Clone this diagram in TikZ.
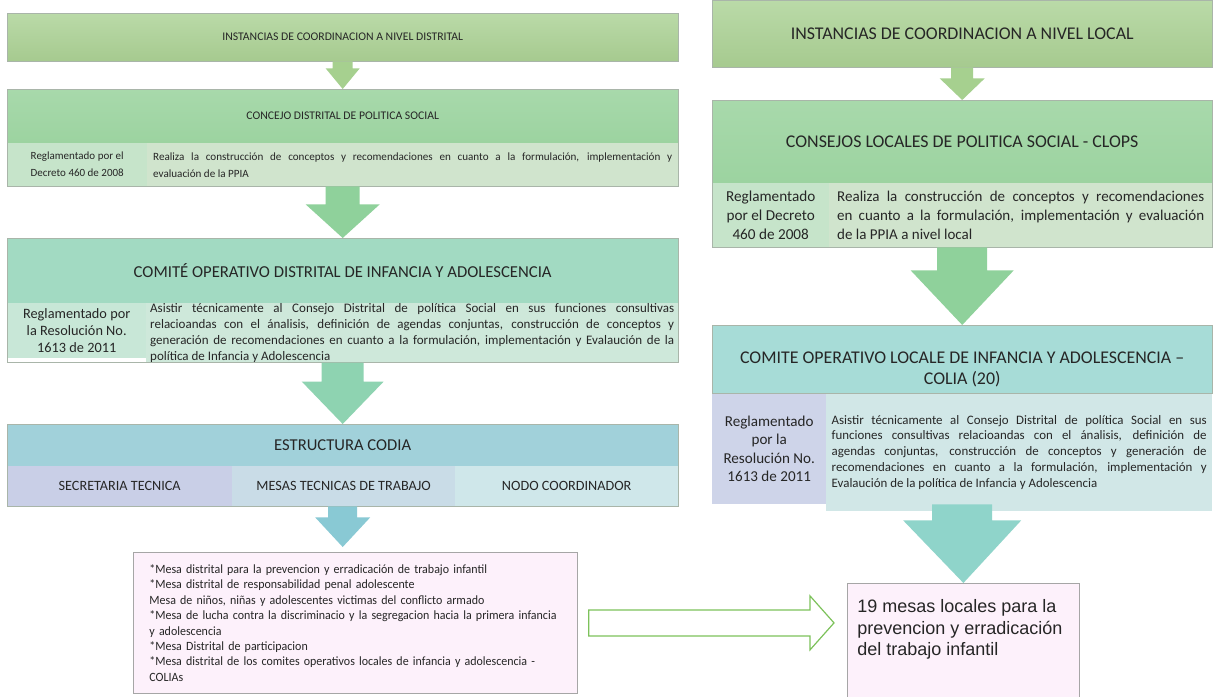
\documentclass[tikz,border=0pt]{standalone}
\usepackage{fontspec}
\setmainfont{Carlito}
\newfontfamily\arialfont{Liberation Sans}
\newfontfamily\narrowfont[FakeStretch=0.95]{Carlito}
\usepackage{xcolor}
\usetikzlibrary{calc}

\definecolor{txt}{HTML}{262626}
\definecolor{rim}{HTML}{A9B5A9}
\definecolor{instT}{HTML}{BADAA8}
\definecolor{instB}{HTML}{A6CA8F}
\definecolor{arrA}{HTML}{A6D08F}
\definecolor{conT}{HTML}{A8D9AB}
\definecolor{conB}{HTML}{9CD3A0}
\definecolor{conL}{HTML}{C6E4CA}
\definecolor{conR}{HTML}{D0E4CD}
\definecolor{arrB}{HTML}{8FD19B}
\definecolor{comH}{HTML}{A2DAC2}
\definecolor{comL}{HTML}{C8E7D7}
\definecolor{comR}{HTML}{CEE8DA}
\definecolor{arrC}{HTML}{8ED3B1}
\definecolor{codH}{HTML}{A1D1DA}
\definecolor{codA}{HTML}{C9CFE7}
\definecolor{codB}{HTML}{C9DCE7}
\definecolor{codC}{HTML}{CFE7EA}
\definecolor{arrD}{HTML}{89C9D4}
\definecolor{rcomH}{HTML}{A7DCD7}
\definecolor{rcomL}{HTML}{CED4E9}
\definecolor{rcomR}{HTML}{D1E7E7}
\definecolor{arrE}{HTML}{8FD4CA}
\definecolor{pinkF}{HTML}{FDF1FB}
\definecolor{pinkE}{HTML}{A6A6A6}
\definecolor{ogreen}{HTML}{7DC25B}

\newcommand\fsz[2]{\fontsize{#1}{#2}\selectfont}
% #1 start, #2 tip, #3 half shaft, #4 half head, #5 shaft length, #6 colour
\newcommand\blockarr[6]{%
  \fill[#6] ($(#1)+(-#3,0)$) -- ($(#1)+(#3,0)$) -- ($(#1)+(#3,#5)$) -- ($(#1)+(#4,#5)$)
    -- (#2) -- ($(#1)+(-#4,#5)$) -- ($(#1)+(-#3,#5)$) -- cycle;}

\tolerance=9999
\hbadness=10000
\hfuzz=4pt

\begin{document}
\begin{tikzpicture}[x=1pt, y=-1pt,
    panel/.style={inner sep=0pt, anchor=north west, text=txt},
    hdr/.style={panel, align=center},
    rowcell/.style={panel, align=center},
    boxrim/.style={draw=rim, line width=0.6pt},
    pinkbox/.style={panel, draw=pinkE, fill=pinkF, line width=0.8pt},
    outarr/.style={draw=ogreen, fill=white, line width=1.2pt}]
    \useasboundingbox (0,0) rectangle (1215,696);
    \clip (0,0) rectangle (1215,696);
    \fill[white] (0,0) rectangle (1215,696);

    % nivel distrital
    \node[hdr, top color=instT, bottom color=instB, minimum width=671pt, minimum height=48pt, font=\fsz{11.7}{14}] (inst) at (7,13) {INSTANCIAS DE COORDINACION A NIVEL DISTRITAL};
    \draw[boxrim] (inst.north west) rectangle (inst.south east);

    \node[hdr, top color=conT, bottom color=conB, minimum width=671pt, minimum height=54pt, font=\fsz{11.7}{14}] (conhdr) at (7,89) {CONCEJO DISTRITAL DE POLITICA SOCIAL};
    \node[rowcell, fill=conL, minimum width=140pt, minimum height=43pt, font=\fsz{11}{17}] (con1) at (7,143) {Reglamentado por el\\Decreto 460 de 2008};
    \node[rowcell, fill=conR, minimum width=531pt, minimum height=43pt, text width=519pt, align=justify, font=\fsz{11.1}{17}] (con2) at (147,143) {Realiza la construcción de conceptos y recomendaciones en cuanto a la formulación, implementación y\linebreak evaluación de la PPIA};
    \draw[boxrim] (conhdr.north west) rectangle (con2.south east);

    \node[hdr, fill=comH, minimum width=671pt, minimum height=65pt, font=\fsz{16.7}{20}] (comhdr) at (7,238) {COMITÉ OPERATIVO DISTRITAL DE INFANCIA Y ADOLESCENCIA};
    \node[rowcell, fill=comL, minimum width=139pt, minimum height=55pt, font=\fsz{14.3}{17}] (com1) at (7,303) {Reglamentado por\\la Resolución No.\\1613 de 2011};
    \node[rowcell, fill=comR, minimum width=532pt, minimum height=55pt, text width=524pt, align=justify, font=\fsz{13}{16}] (com2) at (146,303) {Asistir técnicamente al Consejo Distrital de política Social en sus funciones consultivas\linebreak relacioandas con el ánalisis, definición de agendas conjuntas, construcción de conceptos y\linebreak generación de recomendaciones en cuanto a la formulación, implementación y Evalaución de la\linebreak política de Infancia y Adolescencia};
    \draw[boxrim] (comhdr.north west) rectangle (com2.south east);

    \node[hdr, fill=codH, minimum width=671pt, minimum height=42pt, font=\fsz{16.6}{20}] (codhdr) at (7,424) {ESTRUCTURA CODIA};
    \node[rowcell, fill=codA, minimum width=225pt, minimum height=40pt, font=\fsz{14.2}{17}] (cod1) at (7,466) {SECRETARIA TECNICA};
    \node[rowcell, fill=codB, minimum width=223pt, minimum height=40pt, font=\fsz{14.2}{17}] (cod2) at (232,466) {MESAS TECNICAS DE TRABAJO};
    \node[rowcell, fill=codC, minimum width=223pt, minimum height=40pt, font=\fsz{14.2}{17}] (cod3) at (455,466) {NODO COORDINADOR};
    \draw[boxrim] (codhdr.north west) rectangle (cod3.south east);

    \node[pinkbox, minimum width=444pt, minimum height=141pt, text width=412pt, align=left, font=\narrowfont\fsz{12.6}{15.4}] (mesas) at (133,552) {{*}Mesa distrital para la prevencion y erradicación de trabajo infantil\\{*}Mesa distrital de responsabilidad penal adolescente\\Mesa de niños, niñas y adolescentes victimas del conflicto armado\\{*}Mesa de lucha contra la discriminacio y la segregacion hacia la primera infancia\\y adolescencia\\{*}Mesa Distrital de participacion\\{*}Mesa distrital de los comites operativos locales de infancia y adolescencia -\\COLIAs};

    % nivel local
    \node[hdr, top color=instT, bottom color=instB, minimum width=500pt, minimum height=67pt, font=\fsz{17.9}{21}] (rinst) at (712,0) {INSTANCIAS DE COORDINACION A NIVEL LOCAL};
    \draw[boxrim] (rinst.north west) rectangle (rinst.south east);

    \node[hdr, top color=conT, bottom color=conB, minimum width=500pt, minimum height=83pt, font=\fsz{17.9}{21}] (rconhdr) at (712,100) {CONSEJOS LOCALES DE POLITICA SOCIAL - CLOPS};
    \node[rowcell, fill=conL, minimum width=117pt, minimum height=64pt, font=\fsz{15.2}{19}] (rcon1) at (712,183) {Reglamentado\\por el Decreto\\460 de 2008};
    \node[rowcell, fill=conR, minimum width=383pt, minimum height=64pt, text width=367pt, align=justify, font=\fsz{15}{19}] (rcon2) at (829,183) {Realiza la construcción de conceptos y recomendaciones\linebreak en cuanto a la formulación, implementación y evaluación\linebreak de la PPIA a nivel local};
    \draw[boxrim] (rconhdr.north west) rectangle (rcon2.south east);

    \node[hdr, fill=rcomH, minimum width=500pt, minimum height=68pt, font=\fsz{17.9}{21}] (rcomhdr) at (712,325) {\raisebox{-11pt}[\height][\depth]{\begin{tabular}{@{}c@{}}COMITE OPERATIVO LOCALE DE INFANCIA Y ADOLESCENCIA –\\COLIA (20)\end{tabular}}};
    \node[rowcell, fill=rcomL, minimum width=114pt, minimum height=111pt, font=\fsz{15.1}{18.5}] (rcom1) at (712,393) {Reglamentado\\por la\\Resolución No.\\1613 de 2011};
    \node[rowcell, fill=rcomR, minimum width=386pt, minimum height=118pt, text width=375pt, align=justify, font=\fsz{12.9}{15.8}] (rcom2) at (826,393) {Asistir técnicamente al Consejo Distrital de política Social en sus\linebreak funciones consultivas relacioandas con el ánalisis, definición de\linebreak agendas conjuntas, construcción de conceptos y generación de\linebreak recomendaciones en cuanto a la formulación, implementación y\linebreak Evalaución de la política de Infancia y Adolescencia};
    \draw[boxrim] (rcomhdr.north west) rectangle (rcomhdr.south east);

    \node[pinkbox, inner xsep=10pt] (rmesas) at (847,583) {\parbox[c][130pt][t]{212pt}{\vspace*{16pt}\arialfont\fsz{18}{21.6}19 mesas locales para la\\prevencion y erradicación\\del trabajo infantil}};

    % flechas
    \coordinate (a2s) at (conhdr |- con2.south);
    \coordinate (a3s) at (comhdr |- com2.south);
    \coordinate (a4s) at (codhdr |- cod2.south);
    \coordinate[yshift=5pt] (a4t) at (codhdr |- mesas.north);
    \coordinate (r2s) at (rconhdr |- rcon2.south);
    \coordinate (r3s) at (rcomhdr |- rcom1.south);

    \blockarr{inst.south}{conhdr.north}{10}{17}{7}{arrA}
    \blockarr{a2s}{comhdr.north}{17}{37}{18}{arrB}
    \blockarr{a3s}{codhdr.north}{21}{41}{19}{arrC}
    \blockarr{a4s}{a4t}{14.5}{27.5}{11}{arrD}
    \blockarr{rinst.south}{rconhdr.north}{11}{22.5}{11}{arrA}
    \blockarr{r2s}{rcomhdr.north}{25}{51.5}{23}{arrB}
    \blockarr{r3s}{rmesas.north}{30}{59}{16}{arrE}

    \coordinate (oS) at ($(mesas.east)+(11,0)$);
    \coordinate[xshift=-13pt] (oT) at (rmesas.west |- oS);
    \draw[outarr] ($(oS)+(0,-13)$) -- ($(oT)+(-24,-13)$) -- ($(oT)+(-24,-27)$) -- (oT)
        -- ($(oT)+(-24,27)$) -- ($(oT)+(-24,13)$) -- ($(oS)+(0,13)$) -- cycle;
\end{tikzpicture}
\end{document}
